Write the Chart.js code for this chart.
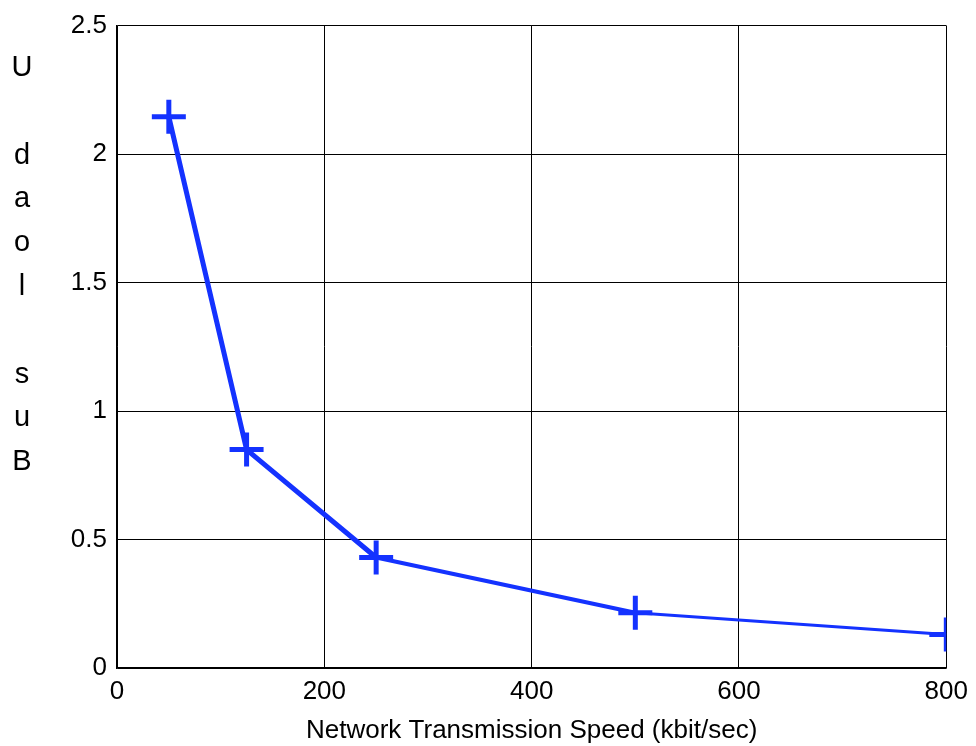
<!DOCTYPE html>
<html><head><meta charset="utf-8">
<script src="https://cdn.jsdelivr.net/npm/chart.js@4/dist/chart.umd.min.js"></script>
<style>html,body{margin:0;padding:0;background:#fff}#wrap{width:976px;height:746px}</style>
</head><body><div id="wrap"><canvas id="c" width="976" height="746"></canvas></div>
<script>
const speeds = [50, 125, 250, 500, 800];
const busLoad = [2.145, 0.85, 0.43, 0.215, 0.13];
const xTicks = [0, 200, 400, 600, 800];
const yTicks = [0, 0.5, 1, 1.5, 2, 2.5];
const xTitle = 'Network Transmission Speed (kbit/sec)';
const yLabelLetters = ['U', '', 'd', 'a', 'o', 'l', '', 's', 'u', 'B'];
const segWidths = [5, 5, 4, 3];
const blue = '#1432ff';

const yLabelPlugin = {
  id: 'yLabel',
  afterDraw(chart) {
    const ctx = chart.ctx;
    ctx.save();
    ctx.font = '29px "Liberation Sans", Arial, sans-serif';
    ctx.fillStyle = '#000';
    ctx.textAlign = 'center';
    ctx.textBaseline = 'middle';
    yLabelLetters.forEach((ch, i) => { if (ch) ctx.fillText(ch, 22, 68 + i * 43.8); });
    ctx.restore();
  }
};

new Chart(document.getElementById('c'), {
  type: 'line',
  data: {
    datasets: [{
      data: speeds.map((x, i) => ({x, y: busLoad[i]})),
      borderColor: blue,
      backgroundColor: blue,
      borderWidth: 4,
      segment: { borderWidth: c => segWidths[c.p0DataIndex] },
      pointStyle: 'cross',
      pointRadius: 17,
      pointBorderWidth: 5,
      pointBorderColor: blue,
      tension: 0,
      fill: false
    }]
  },
  options: {
    responsive: false,
    animation: false,
    devicePixelRatio: 1,
    layout: { padding: { top: 25, right: 28, left: 0, bottom: 0 } },
    plugins: { legend: { display: false }, tooltip: { enabled: false } },
    scales: {
      x: {
        type: 'linear', min: 0, max: 800,
        afterBuildTicks: a => { a.ticks = xTicks.map(v => ({value: v})); },
        afterFit: a => { a.height = 78; },
        grid: { color: '#000', lineWidth: 1, drawTicks: false },
        border: { color: '#000', width: 1.5 },
        ticks: { color: '#000', padding: 8, maxRotation: 0, callback: v => String(v),
          font: { family: '"Liberation Sans Narrow", "Liberation Sans", Arial', size: 26 } },
        title: { display: true, text: xTitle, color: '#000', padding: { top: 0, bottom: 0 },
          font: { family: '"Liberation Sans Narrow", "Liberation Sans", Arial', size: 26 } }
      },
      y: {
        type: 'linear', min: 0, max: 2.5,
        afterBuildTicks: a => { a.ticks = yTicks.map(v => ({value: v})); },
        afterFit: a => { a.width = 117; },
        grid: { color: '#000', lineWidth: 1, drawTicks: false },
        border: { color: '#000', width: 1.5 },
        ticks: { color: '#000', padding: 10, callback: v => String(v),
          font: { family: '"Liberation Sans", Arial', size: 26 } }
      }
    }
  },
  plugins: [yLabelPlugin]
});
</script></body></html>
